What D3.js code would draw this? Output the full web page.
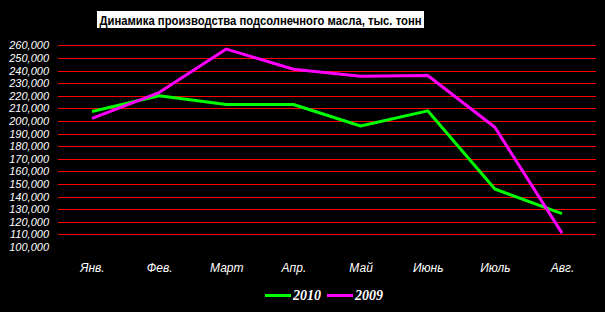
<!DOCTYPE html>
<html>
<head>
<meta charset="utf-8">
<script src="https://cdn.jsdelivr.net/npm/d3@7"></script>
<style>
  body { margin: 0; background: #000; }
</style>
</head>
<body>
<div class="canvas"></div>
<script>
// data
const months = ['Янв.', 'Фев.', 'Март', 'Апр.', 'Май', 'Июнь', 'Июль', 'Авг.'];
const values2010 = [207500, 220000, 213000, 213000, 196000, 208000, 146000, 126500];
const values2009 = [202000, 222500, 257000, 241000, 235500, 236000, 195000, 111000];
const yTicks = d3.range(100000, 260001, 10000);
const seriesNames = ['2010', '2009'];
const seriesColors = ['#00ff00', '#ff00ff'];

const svg = d3.select('.canvas')
    .append('svg')
        .attr('width', 605)
        .attr('height', 312)
        .style('background', '#000');

// scales
const x = d3.scalePoint()
    .domain(months)
    .range([92, 562]);

const y = d3.scaleLinear()
    .domain([100000, 260000])
    .range([247, 45.3]);

// title box
svg.append('rect')
    .attr('x', 97)
    .attr('y', 11)
    .attr('width', 327)
    .attr('height', 17)
    .attr('fill', '#fff');
svg.append('text')
    .attr('x', 260.5)
    .attr('y', 24.5)
    .attr('text-anchor', 'middle')
    .attr('font-family', '"Liberation Sans", Arial, sans-serif')
    .attr('font-weight', 'bold')
    .attr('font-size', 13.5)
    .attr('fill', '#000')
    .attr('textLength', 322)
    .attr('lengthAdjust', 'spacingAndGlyphs')
    .text('Динамика производства подсолнечного масла, тыс. тонн');

// gridlines
svg.append('g')
    .selectAll('line')
    .data(yTicks.filter(d => d > 100000))
    .enter()
    .append('line')
        .attr('x1', 58)
        .attr('x2', 596)
        .attr('y1', d => Math.round(y(d)) + 0.5)
        .attr('y2', d => Math.round(y(d)) + 0.5)
        .attr('stroke', '#ff0000')
        .attr('stroke-width', 1)
        .attr('shape-rendering', 'crispEdges');

// y axis labels
const yAxis = d3.axisLeft(y)
    .tickValues(yTicks)
    .tickSize(0)
    .tickPadding(0)
    .tickFormat(d3.format(',d'));
const yAxisGroup = svg.append('g')
    .attr('transform', 'translate(49, 0)')
    .call(yAxis);
yAxisGroup.select('.domain').remove();
yAxisGroup.selectAll('text')
    .attr('fill', '#fff')
    .attr('font-family', '"Liberation Sans", Arial, sans-serif')
    .attr('font-style', 'italic')
    .attr('font-size', 11);

// x axis labels
const xAxis = d3.axisBottom(x).tickSize(0).tickPadding(0);
const xAxisGroup = svg.append('g')
    .attr('transform', 'translate(0, 263)')
    .call(xAxis);
xAxisGroup.select('.domain').remove();
xAxisGroup.selectAll('text')
    .attr('fill', '#fff')
    .attr('font-family', '"Liberation Sans", Arial, sans-serif')
    .attr('font-style', 'italic')
    .attr('font-size', 12);

// lines
const line = d3.line()
    .x((d, i) => x(months[i]))
    .y(d => y(d));

[values2010, values2009].forEach((vals, i) => {
    svg.append('path')
        .datum(vals)
        .attr('d', line)
        .attr('fill', 'none')
        .attr('stroke', seriesColors[i])
        .attr('stroke-width', 3)
        .attr('stroke-linejoin', 'round');
});

// legend
const legendX = [265, 327];
const legend = svg.append('g');
seriesNames.forEach((name, i) => {
    legend.append('line')
        .attr('x1', legendX[i])
        .attr('x2', legendX[i] + 26)
        .attr('y1', 295.5)
        .attr('y2', 295.5)
        .attr('stroke', seriesColors[i])
        .attr('stroke-width', 3);
    legend.append('text')
        .attr('x', legendX[i] + 28)
        .attr('y', 300)
        .attr('fill', '#fff')
        .attr('font-family', '"Liberation Serif", "Times New Roman", serif')
        .attr('font-weight', 'bold')
        .attr('font-style', 'italic')
        .attr('font-size', 14)
        .text(name);
});
</script>
</body>
</html>
